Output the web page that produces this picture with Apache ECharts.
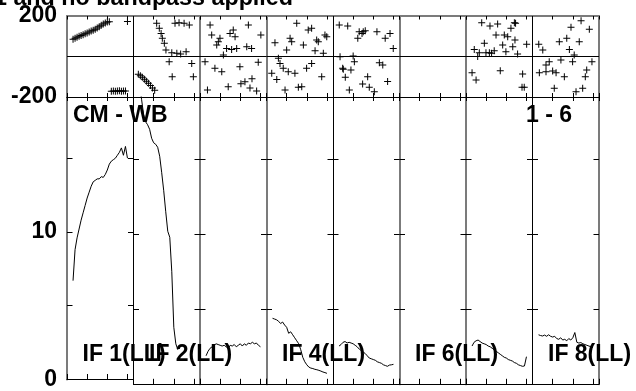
<!DOCTYPE html>
<html><head><meta charset="utf-8">
<script src="https://cdn.jsdelivr.net/npm/echarts@6/dist/echarts.min.js"></script>
<style>html,body{margin:0;padding:0;background:#fff}#c{width:636px;height:391px}</style>
</head><body><div id="c"></div>
<script>
// ---------- data ----------
const titleText = 'Plot of CL 1 and no bandpass applied';
const baselineLabel = 'CM - WB';
const timeLabel = '1 - 6';
const ifLabels = ['IF 1(LL)', 'IF 2(LL)', '', 'IF 4(LL)', '', 'IF 6(LL)', '', 'IF 8(LL)'];
const phaseLabelValues = [200, -200];
const ampLabelValues = [0, 10];

const chan = [3,4,5,6,7,8,9,10,11,12,13,14,15,16,17,18,19,20,21,22,23,24,25,26,27,28,29,30];
const chan2 = [3,4,5,6,7,8,9,10,11,12,13,14,15,16,17,18,19,20,21,22];

const amp1 = [6.7,8.8,9.6,10.2,10.8,11.3,11.8,12.3,12.7,13.1,13.4,13.5,13.6,13.6,13.75,13.7,13.9,14.2,14.6,14.8,14.9,15.0,15.2,15.4,15.7,15.2,15.8,15.0];
const amp2 = [20.0,19.0,18.0,17.5,17.3,17.0,16.4,16.1,16.0,15.8,15.2,14.1,12.9,11.5,10.2,9.8,7.5,3.8,2.7,2.3];
const amp3 = [1.9,2.2,2.4,2.5,2.6,2.7,2.65,2.6,2.55,2.6,2.5,2.4,2.6,2.55,2.65,2.5,2.6,2.7,2.55,2.7,2.6,2.75,2.7,2.8,2.7,2.75,2.6,2.5];
const amp4 = [4.4,4.35,4.3,4.2,4.05,4.15,3.95,3.8,3.4,3.5,3.3,3.1,2.9,2.7,2.3,1.8,1.5,1.3,1.15,1.08,1.05,1.0,0.97,0.93,0.88,0.82,0.78,0.73];
const amp5 = [2.55,2.65,2.8,2.85,2.75,2.8,2.75,2.7,2.6,2.5,2.35,2.25,2.15,2.05,1.9,1.75,1.7,1.65,1.6,1.5,1.45,1.4,1.3,1.25,1.2,1.28,1.3,1.33];
const amp6 = [];
const amp7 = [2.55,2.8,2.9,2.95,2.85,2.75,2.7,2.65,2.55,2.5,2.4,2.3,2.2,2.1,2.0,1.9,1.8,1.75,1.65,1.6,1.55,1.45,1.4,1.3,1.25,1.2,1.22,1.84];
const amp8 = [3.3,3.25,3.22,3.28,3.2,3.3,3.2,3.15,3.2,3.05,3.0,3.1,2.95,3.0,2.9,3.05,2.95,3.1,3.45,2.8,2.75,2.78,2.7,2.65,2.6,2.55,2.5,2.45];

const ph1 = [[3,85],[4,90],[5,95],[6,100],[7,104],[8,108],[9,112],[10,116],[11,121],[12,126],[13,130],[14,135],[15,141],[16,147],[17,154],[18,160],[19,166],[20,170],[21,172],[22,-171],[23,-170],[24,-172],[25,-170],[26,-169],[27,-171],[28,-170],[29,-170],[30,173]];
const ph2 = [[2.4,-88],[3.4,-95],[4.4,-102],[5.4,-112],[6.4,-122],[7.4,-132],[8.4,-143],[9.4,-155],[10.5,-167],[11.5,164],[12.8,139],[13.7,114],[14.3,90],[15.3,65],[16.1,32],[17.7,-26],[19,19],[19.2,-100],[20.6,164],[21.5,16],[22.6,167],[23.4,12],[25.1,164],[26.1,24],[27.7,156],[28.9,-34],[29.7,-100]];
const ph3 = [[2.5,-26],[3.7,-165],[5.0,156],[5.8,106],[7.4,-58],[8.3,57],[9.1,73],[9.9,90],[10.8,-75],[11.6,7],[13.2,40],[14.0,-149],[14.9,114],[15.7,35],[16.5,131],[17.4,98],[18.2,40],[19.8,-50],[20.3,-135],[22.3,-125],[23.2,48],[24.0,156],[24.8,-155],[25.6,40],[25.8,-110],[28.1,-170],[28.9,-29],[30.2,106]];
const ph4 = [[2.6,-83],[4.2,68],[5.1,-113],[5.9,-9],[6.7,-34],[8.3,-58],[9.2,-165],[10.0,32],[10.8,-75],[11.7,90],[12.5,73],[14.1,-83],[15.0,164],[15.8,-152],[17.5,-149],[18.3,57],[19.9,-58],[20.7,131],[22.4,139],[22.4,-34],[24.1,29],[24.9,81],[25.7,73],[27.4,-100],[28.2,16],[29.0,106],[29.9,98]];
const ph5 = [[3.1,156],[3.5,-1],[4.8,-58],[5.1,-63],[6.1,-103],[7.3,151],[8.1,-165],[8.9,-67],[10.0,3],[10.6,-26],[12.3,90],[13.0,122],[14.4,114],[14.7,-136],[15.0,122],[16.0,127],[17.2,-100],[18.0,-152],[20.5,-174],[21.8,122],[23.0,-31],[24.7,-42],[25.9,90],[27.1,-124],[28.3,114],[29.9,40]];
const ph6 = [];
const ph7 = [[3.0,-80],[4.1,35],[5.0,-116],[5.8,0],[6.6,19],[7.8,167],[9.1,65],[9.9,19],[11.6,19],[11.9,151],[12.7,16],[14.0,29],[14.9,106],[15.7,160],[17.0,-70],[18.2,57],[19.0,106],[19.8,24],[20.7,98],[22.3,139],[23.2,48],[24.0,167],[24.3,81],[24.6,164],[25.6,12],[27.8,-152],[28.1,-86],[28.9,-152],[30.1,60]];
const ph8 = [[3.1,60],[3.4,-80],[5.1,32],[6.7,-42],[6.7,-75],[8.3,-26],[10.0,-72],[10.8,-157],[11.7,-80],[13.3,73],[14.1,-17],[15.8,-100],[17.0,90],[18.3,35],[19.1,144],[19.9,-26],[20.7,7],[21.6,-174],[23.2,73],[24.1,177],[24.9,-157],[26.2,-100],[26.9,-67],[28.2,134],[29.5,-26]];

const ampSets = [amp1, amp2, amp3, amp4, amp5, amp6, amp7, amp8];
const ampChans = [chan, chan2, chan, chan, chan, chan, chan, chan];
const phaseSets = [ph1, ph2, ph3, ph4, ph5, ph6, ph7, ph8];

// ---------- layout / style ----------
const FONT = "'Liberation Sans', Arial, Helvetica, sans-serif";
const L = 67, R = 599, N = 8, W = (R - L) / N;
const PT = 16, PB = 97, AB = 384.3;
const edgeGray = [true, false, true, true, false, true, true, false, true];
const GRAY = '#7b7b7b';
function edgeLine(i) { return edgeGray[i] ? {color: GRAY, width: 2} : {color: '#000', width: 1}; }
const txt = {fontSize: 23, fontWeight: 'bold', fontFamily: FONT, color: '#000'};
const titleTxt = Object.assign({}, txt, {fontSize: 23.3});
const plus = 'path://M0,3h3v-3h1v3h3v1h-3v3h-1v-3h-3z';

const grids = [], xAxes = [], yAxes = [], series = [];
for (let g = 0; g < 2 * N; g++) {
  const isPhase = g < N;
  const i = g % N;
  grids.push({left: L + i * W, top: isPhase ? PT : PB, width: W, height: isPhase ? PB - PT : AB - PB});
  const xBase = {gridIndex: g, type: 'value', min: 0, max: 33, interval: 10,
    axisLabel: {show: false}, splitLine: {show: false}};
  xAxes.push(Object.assign({}, xBase, {position: 'bottom',
    axisLine: {show: true, onZero: false, lineStyle: {color: '#000', width: 1}},
    axisTick: {show: true, inside: true, length: isPhase ? 4 : 5.5, lineStyle: {color: '#000', width: 1}}}));
  xAxes.push(Object.assign({}, xBase, {position: 'top',
    axisLine: {show: true, onZero: false, lineStyle: isPhase ? {color: GRAY, width: 2} : {color: '#000', width: 1}},
    axisTick: {show: true, inside: true, length: isPhase ? 3.5 : 4, lineStyle: {color: '#000', width: 1}}}));
  const yBase = isPhase
    ? {gridIndex: g, type: 'value', min: -200, max: 200, interval: 200, axisTick: {show: false}}
    : {gridIndex: g, type: 'value', min: 0, max: 19.15, interval: 5,
       axisTick: {show: true, inside: true, length: 5.5, lineStyle: {color: '#000', width: 1}}};
  let leftLabel = {show: false};
  if (i === 0) {
    const shown = isPhase ? phaseLabelValues : ampLabelValues;
    leftLabel = Object.assign({show: true, margin: 10, showMinLabel: true, showMaxLabel: true,
      formatter: v => shown.indexOf(v) >= 0 ? String(v) : ''}, txt);
  }
  yAxes.push(Object.assign({}, yBase, {position: 'left',
    axisLine: {show: true, onZero: false, lineStyle: edgeLine(i)},
    axisLabel: leftLabel, splitLine: {show: false}}));
  yAxes.push(Object.assign({}, yBase, {position: 'right',
    axisLine: {show: true, onZero: false, lineStyle: edgeLine(i + 1)},
    axisLabel: {show: false}, splitLine: {show: false}}));
}

for (let i = 0; i < N; i++) {
  series.push({type: 'scatter', xAxisIndex: 2 * i, yAxisIndex: 2 * i,
    symbol: plus, symbolSize: 7, itemStyle: {color: '#000', opacity: 1},
    data: phaseSets[i], silent: true,
    markLine: {silent: true, symbol: 'none', label: {show: false}, animation: false,
      lineStyle: {color: '#000', width: 1, type: 'solid'}, data: [{yAxis: 0}]}});
  const g = N + i;
  series.push({type: 'line', xAxisIndex: 2 * g, yAxisIndex: 2 * g,
    showSymbol: false, symbol: 'none', clip: true, silent: true,
    lineStyle: {color: '#000', width: 1},
    data: ampChans[i].slice(0, ampSets[i].length).map((c, k) => [c, ampSets[i][k]])});
}

const titles = [
  {text: titleText, right: 636 - 293, top: -12.5, padding: 0, textStyle: titleTxt},
  {text: baselineLabel, left: 73, top: 104.5, padding: 0, textStyle: txt},
  {text: timeLabel, right: 64, top: 104.5, padding: 0, textStyle: txt}
];
ifLabels.forEach((t, i) => {
  if (t) titles.push({text: t, left: L + i * W + 15.5, top: 343.2, padding: 0, textStyle: txt});
});

const chart = echarts.init(document.getElementById('c'), null, {renderer: 'canvas'});
chart.setOption({
  animation: false,
  backgroundColor: '#fff',
  title: titles,
  grid: grids, xAxis: xAxes, yAxis: yAxes, series: series
});
</script>
</body></html>
